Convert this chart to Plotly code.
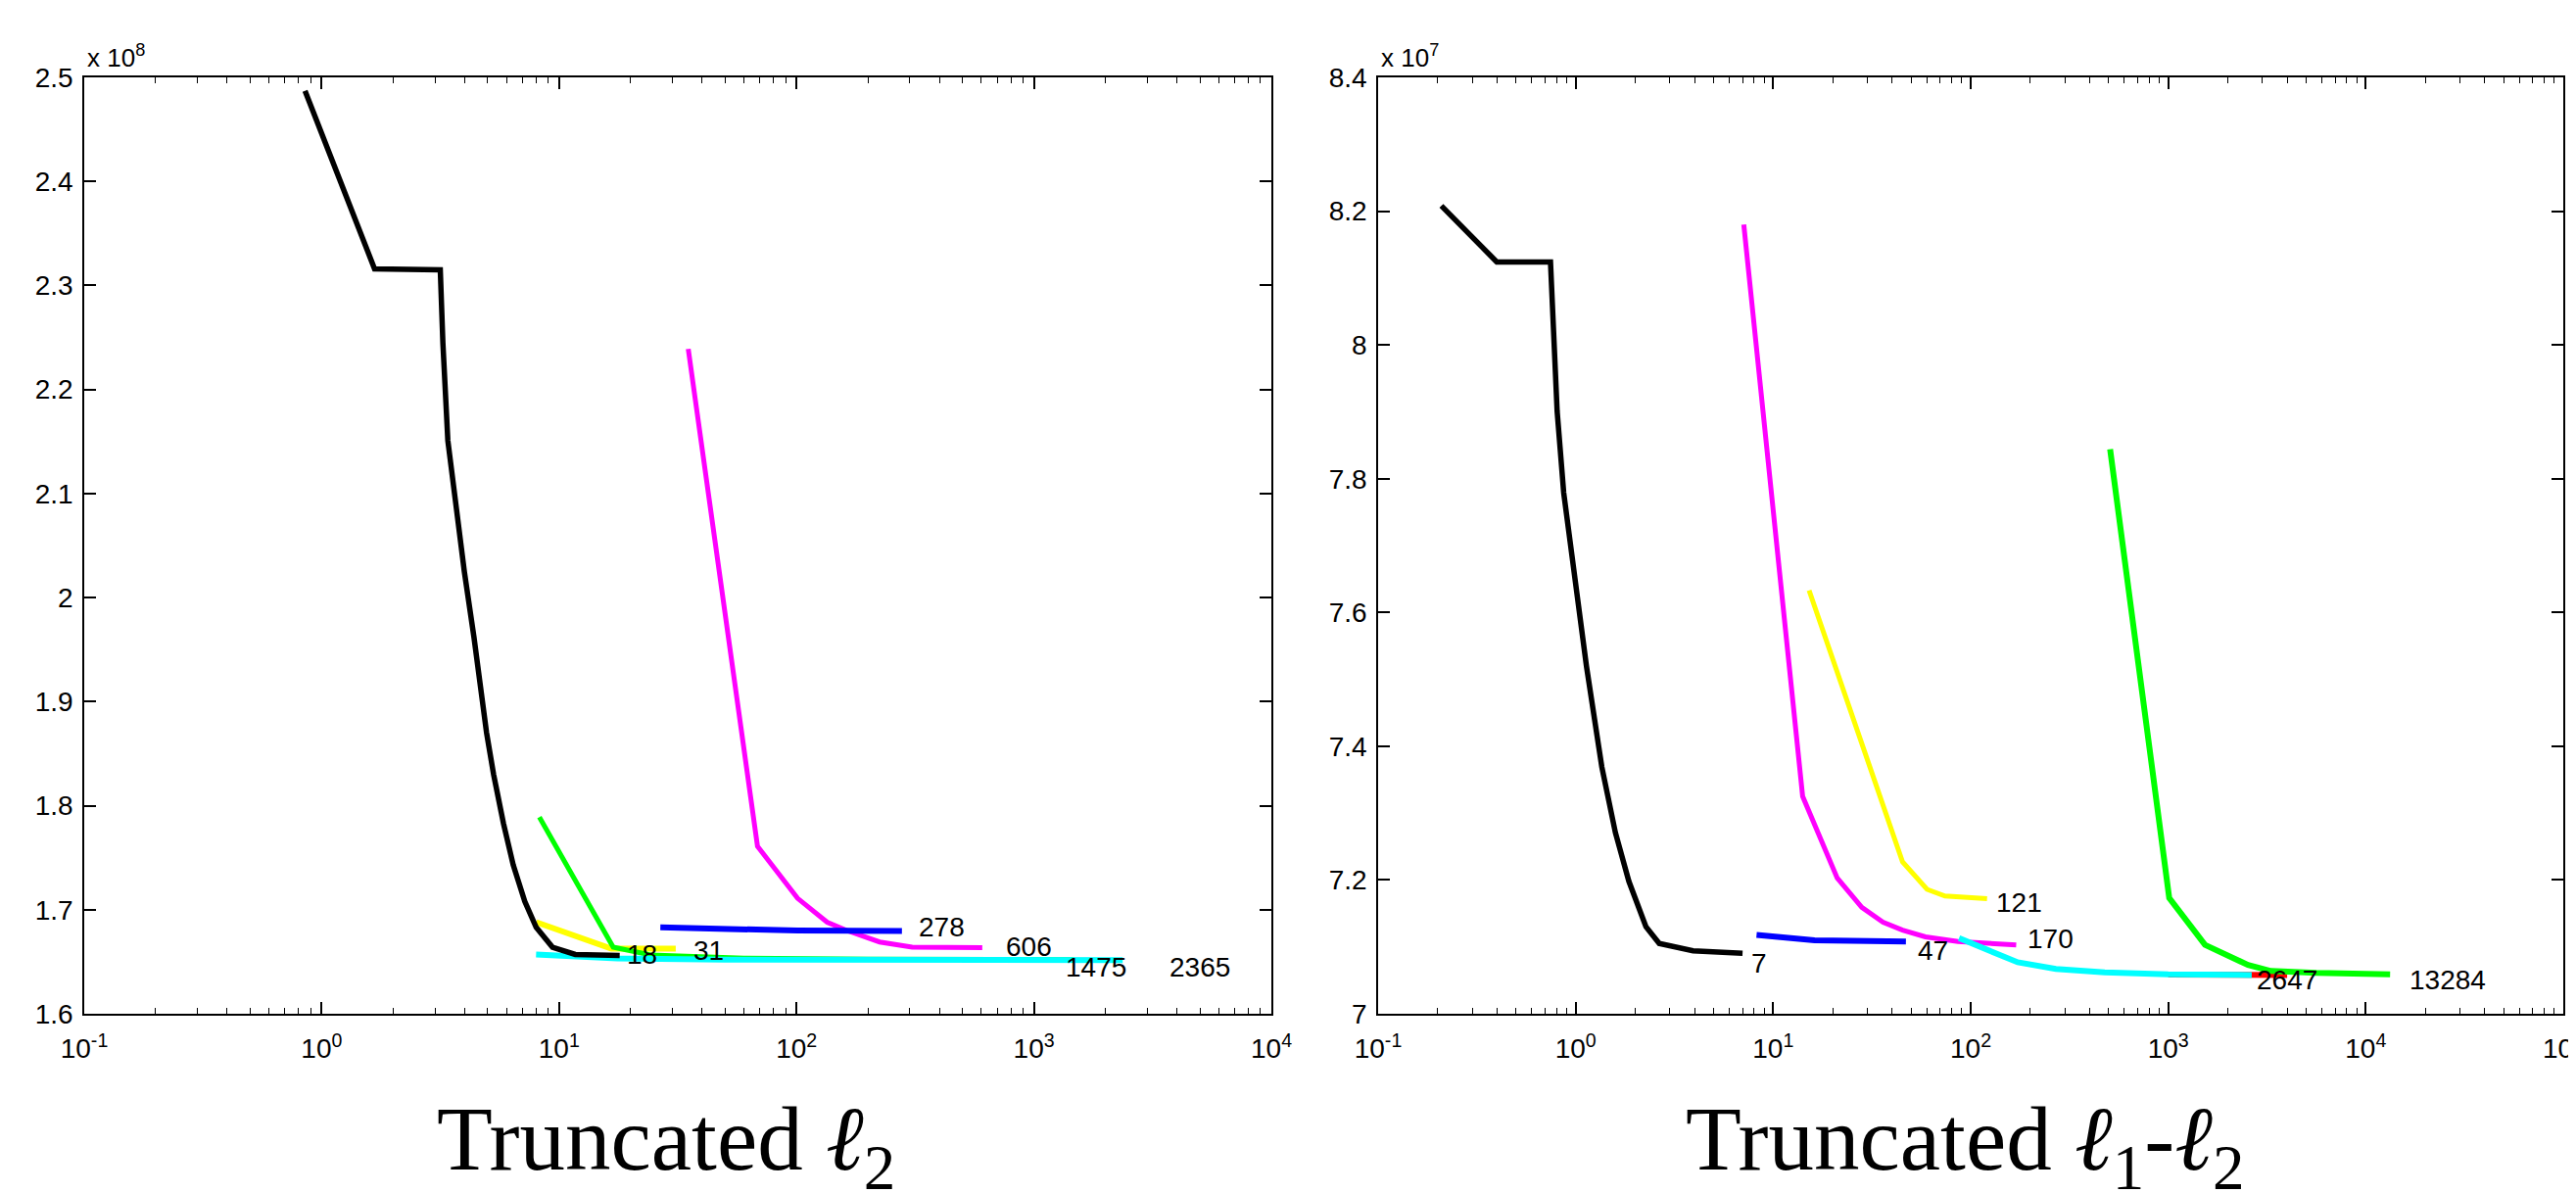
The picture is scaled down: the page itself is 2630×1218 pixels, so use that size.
import numpy as np
import plotly.graph_objects as go

# ---- left panel: Truncated l2 (y in units of 1e8) ----
l2_black_x = [0.851, 1.67, 3.16, 3.24, 3.40, 3.68, 3.99, 4.38, 4.95, 5.30, 5.83, 6.41, 7.17, 8.01, 9.38, 11.7, 18]
l2_black_y = [2.487, 2.316, 2.315, 2.245, 2.151, 2.088, 2.025, 1.962, 1.870, 1.830, 1.783, 1.743, 1.708, 1.683, 1.664, 1.657, 1.656]
l2_green_x = [8.26, 16.9, 24.3, 60, 200, 1475]
l2_green_y = [1.789, 1.664, 1.6565, 1.6535, 1.6525, 1.652]
l2_yellow_x = [8.01, 16.6, 31]
l2_yellow_y = [1.688, 1.6626, 1.6626]
l2_cyan_x = [8.0, 17.6, 50, 494, 2365]
l2_cyan_y = [1.657, 1.6533, 1.652, 1.6516, 1.6516]
l2_blue_x = [26.7, 59, 101, 278]
l2_blue_y = [1.683, 1.6805, 1.680, 1.6796]
l2_magenta_x = [35.0, 68.5, 101, 134.6, 163, 224, 307, 606]
l2_magenta_y = [2.239, 1.761, 1.711, 1.688, 1.680, 1.669, 1.664, 1.6636]

l2_labels = ["18", "31", "278", "606", "1475", "2365"]
l2_label_x = [18.86, 36.2, 322, 751, 1334, 3664]
l2_label_y = [1.657, 1.661, 1.683, 1.6645, 1.645, 1.645]

# ---- right panel: Truncated l1-l2 (y in units of 1e7) ----
l12_black_x = [0.209, 0.399, 0.746, 0.776, 0.806, 0.870, 0.974, 1.134, 1.357, 1.589, 1.86, 2.27, 2.65, 3.93, 7]
l12_black_y = [8.208, 8.124, 8.124, 8.008, 7.901, 7.779, 7.666, 7.520, 7.369, 7.271, 7.198, 7.130, 7.105, 7.094, 7.0906]
l12_blue_x = [8.24, 16.2, 47]
l12_blue_y = [7.118, 7.110, 7.108]
l12_magenta_x = [7.1, 14.1, 21.1, 28.1, 36.0, 45.2, 59, 86.3, 170]
l12_magenta_y = [8.180, 7.325, 7.203, 7.159, 7.137, 7.125, 7.115, 7.108, 7.103]
l12_yellow_x = [15.2, 45.2, 60.1, 74.1, 121]
l12_yellow_y = [7.633, 7.227, 7.186, 7.176, 7.172]
l12_cyan_x = [87.3, 173, 270, 477, 1000, 2647]
l12_cyan_y = [7.113, 7.077, 7.067, 7.062, 7.059, 7.058]
l12_red_x = [1000, 4000]
l12_red_y = [7.0585, 7.058]
l12_green_x = [508, 1012, 1535, 2535, 3311, 5623, 13284]
l12_green_y = [7.844, 7.173, 7.103, 7.073, 7.064, 7.061, 7.059]

l12_labels = ["7", "47", "121", "170", "2647", "13284"]
l12_label_x = [7.55, 52.6, 131, 190, 2735, 16330]
l12_label_y = [7.075, 7.094, 7.166, 7.112, 7.050, 7.050]

# tick labels
l2_yticks = [1.6, 1.7, 1.8, 1.9, 2.0, 2.1, 2.2, 2.3, 2.4, 2.5]
l2_yticktext = ["1.6", "1.7", "1.8", "1.9", "2", "2.1", "2.2", "2.3", "2.4", "2.5"]
l12_yticks = [7.0, 7.2, 7.4, 7.6, 7.8, 8.0, 8.2, 8.4]
l12_yticktext = ["7", "7.2", "7.4", "7.6", "7.8", "8", "8.2", "8.4"]

## page body has an 8px margin, so the figure is a bit smaller than the window
W, H = 2622, 1210
SANS = "Liberation Sans, Arial, sans-serif"
SERIF = "Liberation Serif, Times New Roman, serif"

fig = go.Figure()

def add_line(x, y, color, xa, ya, width=5.5):
    fig.add_trace(go.Scatter(x=x, y=y, mode="lines", xaxis=xa, yaxis=ya,
                             line=dict(color=color, width=width),
                             showlegend=False, hoverinfo="skip"))

## left panel, drawing order so overlaps look like the original
add_line(l2_magenta_x, l2_magenta_y, "#FF00FF", "x", "y", 5)
add_line(l2_yellow_x, l2_yellow_y, "#FFFF00", "x", "y", 6)
add_line(l2_green_x, l2_green_y, "#00FF00", "x", "y", 5)
add_line(l2_cyan_x, l2_cyan_y, "#00FFFF", "x", "y", 6)
add_line(l2_blue_x, l2_blue_y, "#0000FF", "x", "y", 6)
add_line(l2_black_x, l2_black_y, "#000000", "x", "y", 5.5)

## right panel
add_line(l12_magenta_x, l12_magenta_y, "#FF00FF", "x2", "y2", 5)
add_line(l12_yellow_x, l12_yellow_y, "#FFFF00", "x2", "y2", 5)
add_line(l12_red_x, l12_red_y, "#FF0000", "x2", "y2", 6)
add_line(l12_green_x, l12_green_y, "#00FF00", "x2", "y2", 6)
add_line(l12_cyan_x, l12_cyan_y, "#00FFFF", "x2", "y2", 6)
add_line(l12_blue_x, l12_blue_y, "#0000FF", "x2", "y2", 6)
add_line(l12_black_x, l12_black_y, "#000000", "x2", "y2", 5.5)


def xaxis_cfg(domain, decades, anchor):
    major = [10.0 ** d for d in decades]
    text = ["10<sup>%d</sup>" % d for d in decades]
    minor = [k * 10.0 ** d for d in decades[:-1] for k in range(2, 10)]
    return dict(type="log", domain=domain, anchor=anchor, automargin=False,
                range=[decades[0], decades[-1]],
                tickmode="array", tickvals=major, ticktext=text,
                ticks="inside", ticklen=12, tickwidth=1.5, tickcolor="black",
                minor=dict(tickmode="array", tickvals=minor, ticks="inside",
                           ticklen=6, tickwidth=1.2, tickcolor="black", showgrid=False),
                showline=True, linecolor="black", linewidth=1.5, mirror="allticks",
                showgrid=False, zeroline=False, ticklabelstandoff=10,
                ticklabeloverflow="allow",
                tickfont=dict(family=SANS, size=28, color="black"))


def yaxis_cfg(domain, rng, vals, text, anchor):
    return dict(domain=domain, anchor=anchor, range=rng, automargin=False,
                tickmode="array", tickvals=vals, ticktext=text,
                ticks="inside", ticklen=12, tickwidth=1.5, tickcolor="black",
                showline=True, linecolor="black", linewidth=1.5, mirror="ticks",
                showgrid=False, zeroline=False, ticklabelstandoff=4,
                tickfont=dict(family=SANS, size=28, color="black"))


ydom = [1 - 1027 / H, 1 - 71 / H]
fig.update_layout(
    xaxis=xaxis_cfg([78 / W, 1290 / W], [-1, 0, 1, 2, 3, 4], "y"),
    yaxis=yaxis_cfg(ydom, [1.6, 2.5], l2_yticks, l2_yticktext, "x"),
    xaxis2=xaxis_cfg([1399 / W, 2609 / W], [-1, 0, 1, 2, 3, 4, 5], "y2"),
    yaxis2=yaxis_cfg(ydom, [7.0, 8.4], l12_yticks, l12_yticktext, "x2"),
)

annotations = []
for t, x, y in zip(l2_labels, l2_label_x, l2_label_y):
    annotations.append(dict(x=np.log10(x), y=y, xref="x", yref="y", text=t,
                            showarrow=False, xanchor="left", yanchor="middle",
                            font=dict(family=SANS, size=28, color="black")))
for t, x, y in zip(l12_labels, l12_label_x, l12_label_y):
    annotations.append(dict(x=np.log10(x), y=y, xref="x2", yref="y2", text=t,
                            showarrow=False, xanchor="left", yanchor="middle",
                            font=dict(family=SANS, size=28, color="black")))

# exponent notes above the axes
annotations.append(dict(x=79 / W, y=1 - 50 / H, xref="paper", yref="paper",
                        text="x 10<sup>8</sup>", showarrow=False,
                        xanchor="left", yanchor="middle",
                        font=dict(family=SANS, size=26, color="black")))
annotations.append(dict(x=1400 / W, y=1 - 50 / H, xref="paper", yref="paper",
                        text="x 10<sup>7</sup>", showarrow=False,
                        xanchor="left", yanchor="middle",
                        font=dict(family=SANS, size=26, color="black")))

# panel titles underneath
annotations.append(dict(x=672 / W, y=1 - 1161 / H, xref="paper", yref="paper",
                        text="Truncated <i>ℓ</i><sub>2</sub>", showarrow=False,
                        xanchor="center", yanchor="middle",
                        font=dict(family=SERIF, size=93, color="black")))
annotations.append(dict(x=1998 / W, y=1 - 1161 / H, xref="paper", yref="paper",
                        text="Truncated <i>ℓ</i><sub>1</sub>-<i>ℓ</i><sub>2</sub>",
                        showarrow=False, xanchor="center", yanchor="middle",
                        font=dict(family=SERIF, size=93, color="black")))

fig.update_layout(
    width=W, height=H,
    margin=dict(l=0, r=0, t=0, b=0, autoexpand=False),
    paper_bgcolor="white", plot_bgcolor="white",
    showlegend=False,
    annotations=annotations,
)

fig.write_html("out.html")
